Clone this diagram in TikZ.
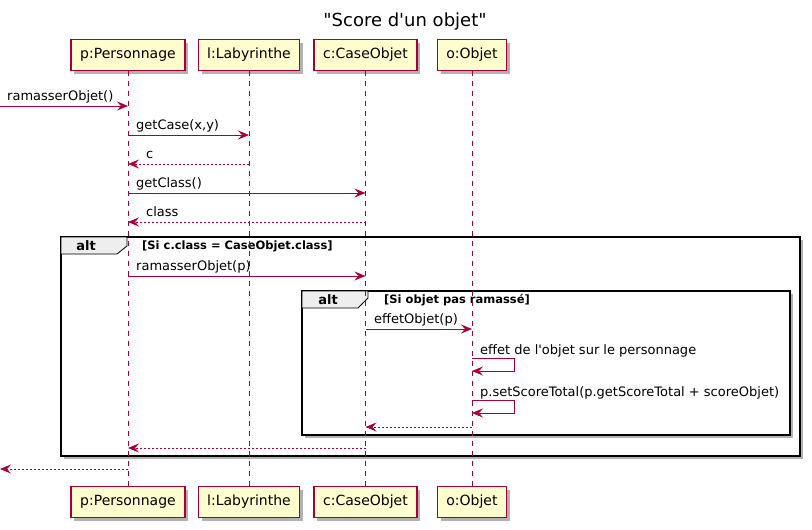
\documentclass[tikz,border=0pt]{standalone}
\usepackage{fontspec}
\newfontfamily\djv{DejaVu Sans}
\usetikzlibrary{arrows.meta,shadows}
\definecolor{umlred}{HTML}{A80036}
\definecolor{umlfill}{HTML}{FEFECE}
\definecolor{tabfill}{HTML}{EEEEEE}
\begin{document}
\djv
\begin{tikzpicture}[x=1pt,y=-1pt,
  actor/.style={draw=umlred, line width=1.1pt, fill=umlfill, minimum height=31pt,
    inner sep=0pt, font=\djv\fontsize{14}{16}\selectfont,
    drop shadow={shadow xshift=3pt, shadow yshift=-3pt, opacity=0.3, fill=black}},
  lifeline/.style={draw=umlred, line width=0.8pt, dash pattern=on 5pt off 5pt},
  msg/.style={draw=umlred, line width=0.8pt, -{Stealth[length=11pt,width=9pt,inset=4pt]}},
  ret/.style={msg, dash pattern=on 2pt off 2pt},
  lbl/.style={anchor=base west, inner sep=0pt, font=\djv\fontsize{13}{15}\selectfont},
  frame/.style={draw=black, line width=1.5pt, fill=white,
    drop shadow={shadow xshift=3pt, shadow yshift=-3pt, opacity=0.3, fill=black}},
  tabshape/.style={draw=black, line width=0.8pt, fill=tabfill},
  altlbl/.style={inner sep=0pt, font=\djv\fontsize{13}{15}\selectfont\bfseries},
  cond/.style={anchor=west, inner sep=0pt, font=\djv\fontsize{11.5}{13}\selectfont\bfseries}
]
\useasboundingbox (0,0) rectangle (812,530);

% title
\node[font=\djv\fontsize{18}{21}\selectfont] (title) at (405,22) {"Score d'un objet"};

% frames
\path[frame] (61,237) rectangle (800,456);
\filldraw[tabshape] (61,237) -- (127,237) -- (127,246) -- (117,254) -- (61,254) -- cycle;
\node[altlbl] (alt1) at (86,246) {alt};
\node[cond] (cond1) at (142,246) {[Si c.class = CaseObjet.class]};

\path[frame] (302,291) rectangle (790,435);
\filldraw[tabshape] (302,291) -- (368,291) -- (368,298) -- (358,308) -- (302,308) -- cycle;
\node[altlbl] (alt2) at (328,300) {alt};
\node[cond] (cond2) at (384,300) {[Si objet pas ramassé]};

% participants
\node[actor, minimum width=114pt] (pt) at (128,55) {p:Personnage};
\node[actor, minimum width=101pt] (lt) at (249,55) {l:Labyrinthe};
\node[actor, minimum width=103pt] (ct) at (365.5,55) {c:CaseObjet};
\node[actor, minimum width=69pt]  (ot) at (472,55) {o:Objet};
\node[actor, minimum width=114pt] (pb) at (128,502) {p:Personnage};
\node[actor, minimum width=101pt] (lb) at (249,502) {l:Labyrinthe};
\node[actor, minimum width=103pt] (cb) at (365.5,502) {c:CaseObjet};
\node[actor, minimum width=69pt]  (ob) at (472,502) {o:Objet};

% lifelines
\draw[lifeline] (pt) -- (pb);
\draw[lifeline] (lt) -- (lb);
\draw[lifeline] (ct) -- (cb);
\draw[lifeline] (ot) -- (ob);

% messages
\coordinate (in) at (0,106);
\draw[msg] (in) -- (pt.south |- in);
\node[lbl] (m1) at (7,100) {ramasserObjet()};

\draw[msg] (pt.south |- 0,135) -- (lt.south |- 0,135);
\node[lbl] (m2) at (136,129) {getCase(x,y)};

\draw[ret] (lt.south |- 0,164) -- (pt.south |- 0,164);
\node[lbl] (m3) at (146,158) {c};

\draw[msg] (pt.south |- 0,193) -- (ct.south |- 0,193);
\node[lbl] (m4) at (136,187) {getClass()};

\draw[ret] (ct.south |- 0,222) -- (pt.south |- 0,222);
\node[lbl] (m5) at (146,216) {class};

\draw[msg] (pt.south |- 0,276) -- (ct.south |- 0,276);
\node[lbl] (m6) at (136,270) {ramasserObjet(p)};

\draw[msg] (ct.south |- 0,329) -- (ot.south |- 0,329);
\node[lbl] (m7) at (374,323) {effetObjet(p)};

\draw[msg] (ot.south |- 0,358) -- ++(42,0) -- ++(0,13) -- (ot.south |- 0,371);
\node[lbl] (m8) at (480,354) {effet de l'objet sur le personnage};

\draw[msg] (ot.south |- 0,400) -- ++(42,0) -- ++(0,13) -- (ot.south |- 0,413);
\node[lbl] (m9) at (480,396) {p.setScoreTotal(p.getScoreTotal + scoreObjet)};

\draw[ret] (ot.south |- 0,427) -- (ct.south |- 0,427);
\draw[ret] (ct.south |- 0,448) -- (pt.south |- 0,448);
\coordinate (out) at (0,469);
\draw[ret] (pt.south |- out) -- (out);
\end{tikzpicture}
\end{document}
